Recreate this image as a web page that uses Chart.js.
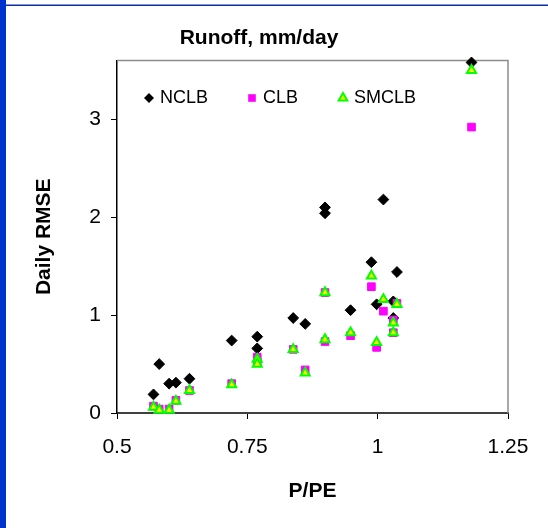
<!DOCTYPE html>
<html><head><meta charset="utf-8">
<script src="https://cdn.jsdelivr.net/npm/chart.js@4/dist/chart.umd.min.js"></script>
<style>html,body{margin:0;padding:0;background:#fff;overflow:hidden}canvas{display:block}</style>
</head><body>
<canvas id="c" width="548" height="528"></canvas>
<script>
const seriesNames = ['NCLB', 'CLB', 'SMCLB'];
const ratioPPE  = [0.570,0.581,0.600,0.613,0.639,0.720,0.769,0.769,0.838,0.861,0.899,0.899,0.948,0.988,0.998,1.011,1.030,1.030,1.037,1.180];
const rmseNCLB  = [0.19,0.50,0.30,0.31,0.35,0.74,0.78,0.66,0.97,0.91,2.10,2.04,1.05,1.54,1.11,2.18,1.14,0.97,1.44,3.58];
const rmseCLB   = [0.07,0.04,0.04,0.13,0.23,0.30,0.57,0.52,0.65,0.44,1.23,0.73,0.79,1.29,0.67,1.04,0.95,0.82,1.12,2.92];
const rmseSMCLB = [0.06,0.03,0.03,0.12,0.23,0.29,0.55,0.50,0.65,0.41,1.23,0.75,0.82,1.40,0.72,1.16,0.92,0.82,1.11,3.50];
const xTickValues = [0.5, 0.75, 1, 1.25];
const yTickValues = [0, 1, 2, 3];
const chartTitle = 'Runoff, mm/day';
const xTitle = 'P/PE';
const yTitle = 'Daily RMSE';

const toPts = ys => ratioPPE.map((x, i) => ({x: x, y: ys[i]}));
const FONT = '"Liberation Sans", Arial, sans-serif';

const framePlugin = {
  id: 'frame',
  beforeDraw(chart) {
    const ctx = chart.ctx;
    ctx.save();
    ctx.fillStyle = '#ffffff';
    ctx.fillRect(0, 0, chart.width, chart.height);
    ctx.fillStyle = '#0033cc';
    ctx.fillRect(0, 0, 6, chart.height);
    ctx.fillStyle = '#0a2fa8';
    ctx.fillRect(6, 4.5, chart.width - 6, 1.5);
    ctx.restore();
  },
  beforeDatasetsDraw(chart) {
    const a = chart.chartArea, ctx = chart.ctx;
    ctx.save();
    ctx.strokeStyle = '#8c8c8c';
    ctx.lineWidth = 1.5;
    ctx.beginPath();
    ctx.moveTo(a.left, a.top);
    ctx.lineTo(a.right, a.top);
    ctx.lineTo(a.right, a.bottom);
    ctx.stroke();
    ctx.restore();
  }
};

function drawMarker(ctx, kind, x, y) {
  ctx.save();
  ctx.beginPath();
  if (kind === 0) {
    const r = 5;
    ctx.moveTo(x, y - r); ctx.lineTo(x + r, y); ctx.lineTo(x, y + r); ctx.lineTo(x - r, y); ctx.closePath();
    ctx.fillStyle = '#000'; ctx.fill();
  } else if (kind === 1) {
    ctx.rect(x - 3.8, y - 3.8, 7.6, 7.6);
    ctx.fillStyle = '#ff00ff'; ctx.fill();
  } else {
    const r = 5;
    ctx.moveTo(x, y - r);
    ctx.lineTo(x + r * Math.sin(2 * Math.PI / 3), y - r * Math.cos(2 * Math.PI / 3));
    ctx.lineTo(x + r * Math.sin(4 * Math.PI / 3), y - r * Math.cos(4 * Math.PI / 3));
    ctx.closePath();
    ctx.fillStyle = '#ffff00'; ctx.fill();
    ctx.strokeStyle = '#00ff00'; ctx.lineWidth = 2; ctx.stroke();
  }
  ctx.restore();
}

const legendPlugin = {
  id: 'insideLegend',
  afterDraw(chart) {
    const ctx = chart.ctx;
    const slots = [[149, 160], [252, 263], [343, 354]];
    const y = 98;
    ctx.save();
    ctx.font = '18px ' + FONT;
    ctx.fillStyle = '#000';
    ctx.textBaseline = 'middle';
    seriesNames.forEach((name, i) => {
      drawMarker(ctx, i, slots[i][0], y);
      ctx.fillStyle = '#000';
      ctx.fillText(name, slots[i][1], y);
    });
    ctx.restore();
  }
};

new Chart(document.getElementById('c'), {
  type: 'scatter',
  data: {
    datasets: [
      {label: seriesNames[0], data: toPts(rmseNCLB), order: 3, clip: false,
       pointStyle: 'rectRot', radius: 5.4, backgroundColor: '#000', borderColor: '#000', borderWidth: 1},
      {label: seriesNames[1], data: toPts(rmseCLB), order: 2, clip: false,
       pointStyle: 'rect', radius: 5.4, backgroundColor: '#ff00ff', borderColor: '#ff00ff', borderWidth: 1},
      {label: seriesNames[2], data: toPts(rmseSMCLB), order: 1, clip: false,
       pointStyle: 'triangle', radius: 5.2, backgroundColor: '#ffff00', borderColor: '#00ff00', borderWidth: 2}
    ]
  },
  options: {
    responsive: false,
    animation: false,
    devicePixelRatio: 1,
    layout: {padding: {left: 10, right: 40, top: 0, bottom: 0}},
    plugins: {
      legend: {display: false},
      tooltip: {enabled: false},
      title: {display: true, text: chartTitle, color: '#000',
              font: {family: FONT, size: 21, weight: 'bold', lineHeight: 1.2},
              padding: {top: 26, bottom: 9.3}}
    },
    scales: {
      x: {
        type: 'linear', min: 0.5, max: 1.25,
        afterBuildTicks: s => { s.ticks = xTickValues.map(v => ({value: v})); },
        afterFit: s => { s.height = 115; },
        ticks: {color: '#000', font: {family: FONT, size: 21}, padding: 16,
                callback: v => String(v)},
        grid: {display: true, drawOnChartArea: false, drawTicks: true, tickLength: 6, color: '#000', lineWidth: 1},
        border: {display: true, color: '#404040', width: 2},
        title: {display: true, text: xTitle, color: '#000',
                font: {family: FONT, size: 21, weight: 'bold', lineHeight: 1.2},
                padding: {top: 0, bottom: 24}}
      },
      y: {
        type: 'linear', min: 0, max: 3.6,
        afterBuildTicks: s => { s.ticks = yTickValues.map(v => ({value: v})); },
        afterFit: s => { s.width = 107; },
        ticks: {color: '#000', font: {family: FONT, size: 21}, padding: 10,
                callback: v => String(v)},
        grid: {display: true, drawOnChartArea: false, drawTicks: true, tickLength: 6, color: '#000', lineWidth: 1},
        border: {display: true, color: '#000', width: 1.5},
        title: {display: true, text: yTitle, color: '#000',
                font: {family: FONT, size: 21, weight: 'bold', lineHeight: 1.2},
                padding: {top: 22, bottom: 0}}
      }
    }
  },
  plugins: [framePlugin, legendPlugin]
});
</script>
</body></html>
